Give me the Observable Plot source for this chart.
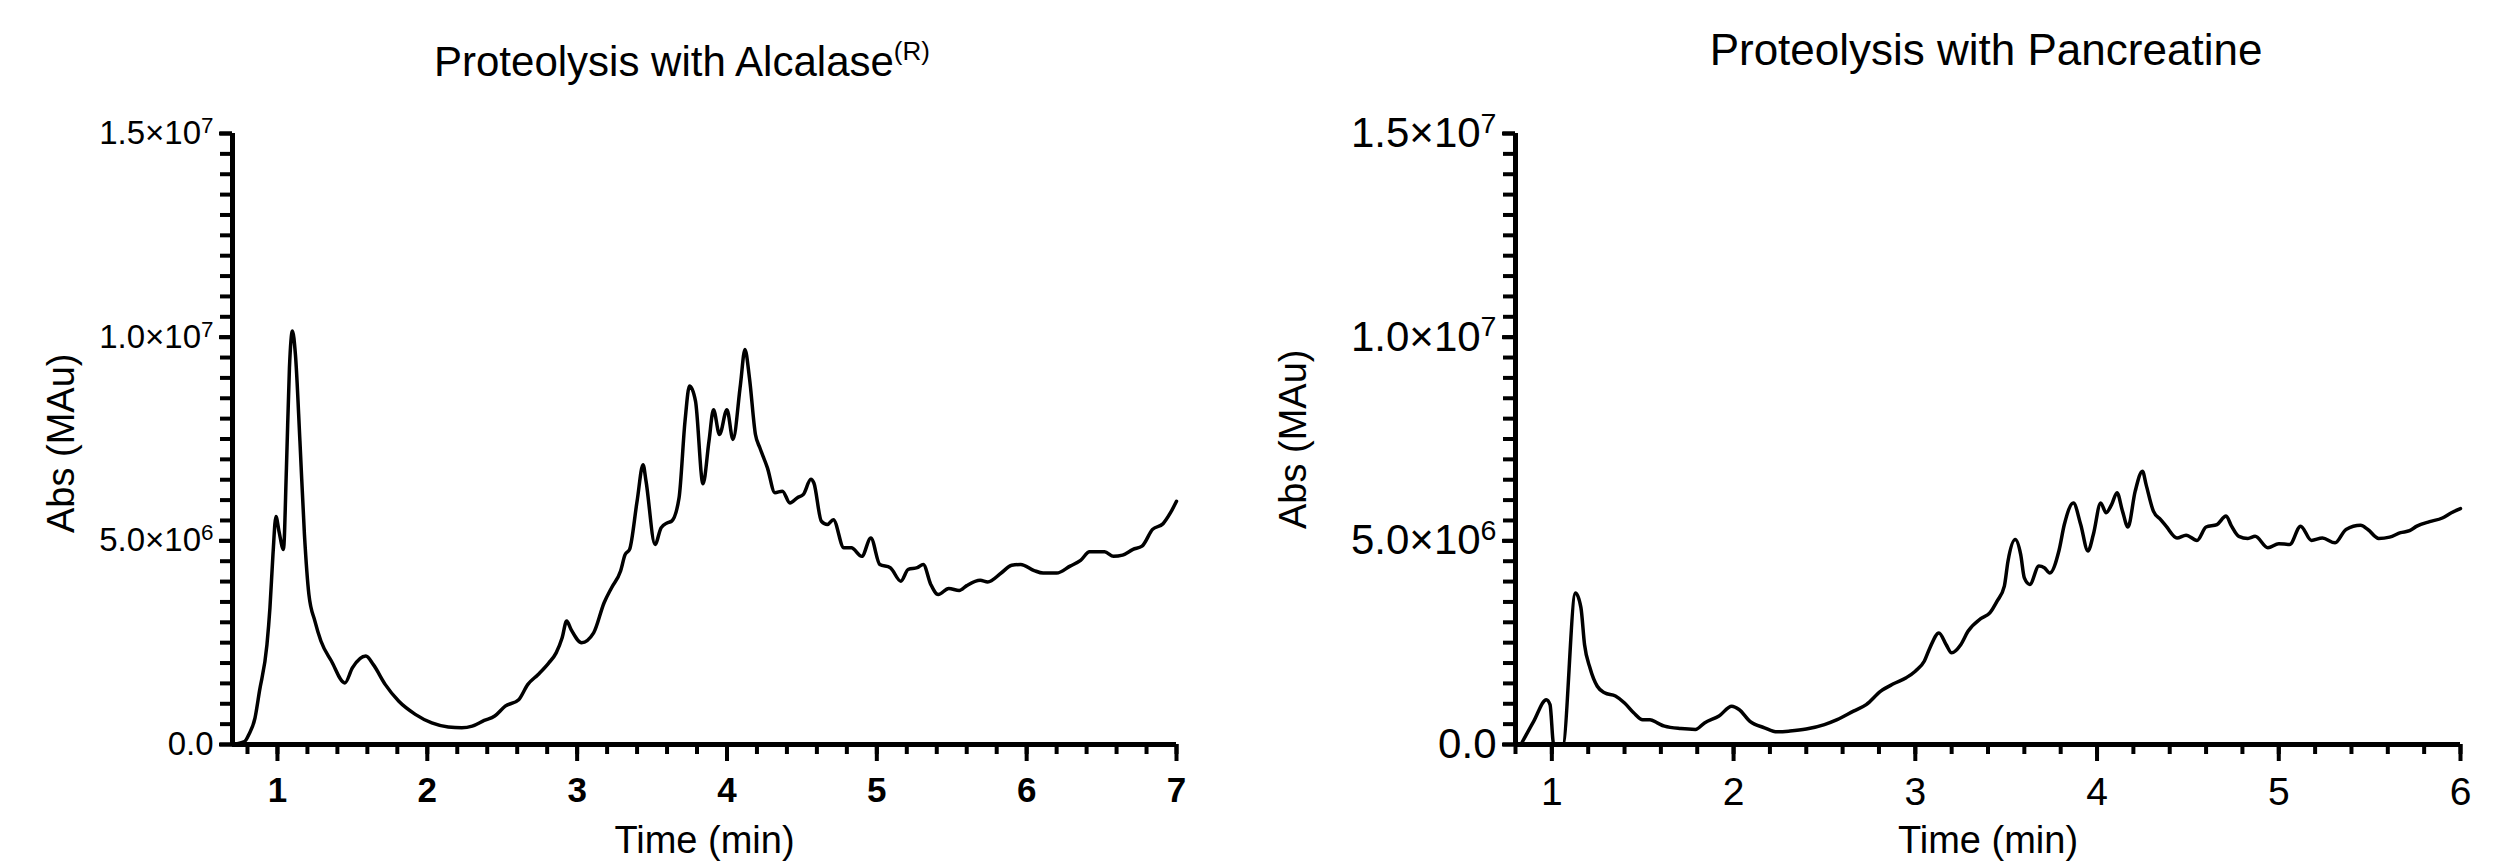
<!DOCTYPE html>
<html><head><meta charset="utf-8">
<script src="https://cdn.jsdelivr.net/npm/d3@7"></script>
<script src="https://cdn.jsdelivr.net/npm/@observablehq/plot@0.6"></script>
<style>
body{margin:0;background:#fff;}
#wrap{position:relative;width:2510px;height:865px;overflow:hidden;font-family:"Liberation Sans",Arial,Helvetica,sans-serif;background:#fff;}
.panel{position:absolute;top:0;}
.title{position:absolute;white-space:nowrap;transform:translate(-50%,-50%);color:#000;line-height:1;}
.title sup{font-size:0.62em;vertical-align:0.6em;line-height:0;}
</style>
</head><body>
<div id="wrap">
  <div class="title" style="left:682px;top:62px;font-size:42px;">Proteolysis with Alcalase<sup>(R)</sup></div>
  <div class="title" style="left:1986px;top:50px;font-size:44px;">Proteolysis with Pancreatine</div>
  <div class="panel" id="left" style="left:0px;"></div>
  <div class="panel" id="right" style="left:1255px;"></div>
</div>
<script>
// ---- data: Alcalase (time in min, absorbance in units of 10^6 MAu)
const alcTime = [0.70,0.78,0.81,0.85,0.88,0.93,0.95,0.97,0.99,1.01,1.04,1.06,1.08,1.10,1.12,1.15,1.18,1.21,1.25,1.29,1.36,1.45,1.50,1.59,1.64,1.72,1.81,1.92,2.03,2.14,2.23,2.30,2.38,2.45,2.52,2.61,2.67,2.74,2.81,2.86,2.90,2.93,2.96,3.03,3.11,3.18,3.23,3.29,3.32,3.35,3.40,3.44,3.46,3.52,3.56,3.60,3.63,3.68,3.72,3.75,3.79,3.84,3.88,3.91,3.95,4.00,4.04,4.09,4.12,4.15,4.19,4.22,4.27,4.32,4.37,4.42,4.47,4.51,4.56,4.58,4.63,4.67,4.71,4.78,4.83,4.90,4.96,5.02,5.09,5.16,5.21,5.27,5.31,5.36,5.41,5.48,5.55,5.60,5.69,5.74,5.83,5.90,5.96,6.05,6.11,6.20,6.29,6.36,6.42,6.52,6.58,6.64,6.71,6.77,6.84,6.91,6.96,7.00];
const alcAbs  = [0.00,0.07,0.25,0.65,1.31,2.45,3.36,4.66,5.60,5.24,4.79,6.79,9.25,10.15,9.57,7.45,5.16,3.68,3.03,2.54,2.05,1.51,1.88,2.17,1.96,1.47,1.06,0.74,0.53,0.43,0.41,0.45,0.59,0.70,0.94,1.10,1.47,1.72,2.00,2.25,2.62,3.03,2.82,2.50,2.74,3.48,3.85,4.26,4.66,4.79,5.97,6.87,6.46,4.91,5.32,5.44,5.48,6.05,7.94,8.80,8.43,6.40,7.45,8.22,7.61,8.22,7.49,8.84,9.70,9.00,7.61,7.28,6.79,6.18,6.22,5.93,6.06,6.14,6.51,6.42,5.48,5.40,5.52,4.83,4.83,4.62,5.07,4.42,4.34,4.01,4.30,4.34,4.42,3.93,3.68,3.83,3.78,3.90,4.03,3.99,4.21,4.40,4.42,4.27,4.21,4.21,4.38,4.52,4.73,4.73,4.62,4.65,4.79,4.87,5.28,5.42,5.69,5.97];

// ---- data: Pancreatine
const panTime = [0.83,0.90,0.97,0.99,1.01,1.06,1.13,1.16,1.18,1.21,1.25,1.29,1.35,1.40,1.45,1.50,1.54,1.58,1.62,1.71,1.79,1.84,1.92,1.99,2.03,2.09,2.17,2.24,2.31,2.40,2.50,2.57,2.66,2.73,2.81,2.88,2.95,3.00,3.05,3.08,3.13,3.17,3.20,3.25,3.29,3.36,3.41,3.45,3.49,3.51,3.55,3.58,3.60,3.63,3.68,3.71,3.74,3.79,3.82,3.87,3.91,3.95,3.98,4.02,4.05,4.08,4.11,4.14,4.17,4.21,4.25,4.27,4.31,4.35,4.38,4.44,4.49,4.55,4.60,4.66,4.71,4.74,4.78,4.83,4.87,4.94,5.00,5.06,5.12,5.18,5.24,5.31,5.37,5.45,5.49,5.55,5.61,5.67,5.72,5.76,5.83,5.90,5.95,6.00];
const panAbs  = [0.00,0.57,1.10,0.98,0.00,0.00,3.72,3.36,2.45,1.88,1.43,1.27,1.19,1.02,0.78,0.61,0.61,0.53,0.45,0.39,0.37,0.53,0.70,0.94,0.86,0.57,0.41,0.31,0.33,0.38,0.49,0.61,0.82,0.98,1.31,1.49,1.64,1.80,2.05,2.37,2.74,2.45,2.25,2.45,2.78,3.09,3.23,3.52,3.89,4.50,5.03,4.66,4.09,3.93,4.38,4.34,4.21,4.75,5.40,5.93,5.40,4.75,5.16,5.93,5.69,5.89,6.18,5.73,5.34,6.22,6.71,6.38,5.73,5.52,5.36,5.07,5.14,5.01,5.34,5.40,5.61,5.36,5.11,5.06,5.11,4.83,4.93,4.91,5.36,5.01,5.07,4.95,5.28,5.38,5.28,5.06,5.09,5.20,5.25,5.36,5.47,5.56,5.69,5.79];

// ---- ticks / labels
const yMajor = [0, 5e6, 1e7, 1.5e7];
const yTickText = ["0.0", "5.0×10^6", "1.0×10^7", "1.5×10^7"];
const alcXMajor = [1, 2, 3, 4, 5, 6, 7];
const panXMajor = [1, 2, 3, 4, 5, 6];
const yLabel = "Abs (MAu)";
const xLabel = "Time (min)";

function panel(cfg) {
  const data = cfg.time.map((t, i) => ({t, v: cfg.abs[i] * 1e6}));
  const yMinor = d3.range(0, 1.5e7 + 1, 5e5);
  const xMinor = d3.range(Math.ceil(cfg.domain[0] * 5) / 5, cfg.domain[1] + 1e-9, 0.2).map(d => +d.toFixed(2));
  return Plot.plot({
    width: 1255, height: 865,
    marginLeft: cfg.marginLeft, marginRight: cfg.marginRight, marginTop: 133, marginBottom: 121,
    x: {domain: cfg.domain, label: null},
    y: {domain: [0, 1.5e7], label: null},
    style: {fontFamily: '"Liberation Sans", Arial, sans-serif', color: "#000", background: "transparent", overflow: "visible"},
    marks: [
      Plot.axisY(yMinor, {tickSize: 12, strokeWidth: 4, tickFormat: () => "", label: null}),
      Plot.axisY(yMajor, {tickSize: 13, strokeWidth: 4, tickPadding: 6, label: null,
        tickFormat: d => yTickText[yMajor.indexOf(d)], fontSize: cfg.yFont}),
      Plot.axisX(xMinor, {tickSize: 10, strokeWidth: 4, tickFormat: () => "", label: null}),
      Plot.axisX(cfg.xMajor, {tickSize: 17, strokeWidth: 4, tickPadding: 16, label: null,
        tickFormat: d => String(d), fontSize: cfg.xFont, fontWeight: cfg.xWeight}),
      Plot.ruleX([cfg.domain[0]], {strokeWidth: 5}),
      Plot.ruleY([0], {strokeWidth: 5}),
      Plot.line(data, {x: "t", y: "v", strokeWidth: 3.5, curve: "monotone-x"}),
      Plot.text([yLabel], {frameAnchor: "left", dx: cfg.yLabelDx, dy: cfg.yLabelDy, rotate: -90, fontSize: 38}),
      Plot.text([xLabel], {frameAnchor: "bottom", dy: 108, fontSize: 38})
    ]
  });
}

function superscripts(svg) {
  svg.querySelectorAll("text").forEach(t => {
    const s = t.textContent;
    if (s.includes("^")) {
      const [base, exp] = s.split("^");
      t.textContent = base;
      const ts = document.createElementNS("http://www.w3.org/2000/svg", "tspan");
      ts.setAttribute("dy", "-0.5em");
      ts.setAttribute("font-size", "0.68em");
      ts.textContent = exp;
      t.appendChild(ts);
    }
  });
}

const left = panel({time: alcTime, abs: alcAbs, domain: [0.7, 7], xMajor: alcXMajor,
  marginLeft: 232, marginRight: 79, yFont: 33,
  xFont: 35, xWeight: "bold", yLabelDx: -171, yLabelDy: 94});
const right = panel({time: panTime, abs: panAbs, domain: [0.8, 6], xMajor: panXMajor,
  marginLeft: 260, marginRight: 50, yFont: 42,
  xFont: 39, xWeight: "normal", yLabelDx: -222, yLabelDy: 90});
superscripts(left); superscripts(right);
document.getElementById("left").appendChild(left);
document.getElementById("right").appendChild(right);
</script>
</body></html>
